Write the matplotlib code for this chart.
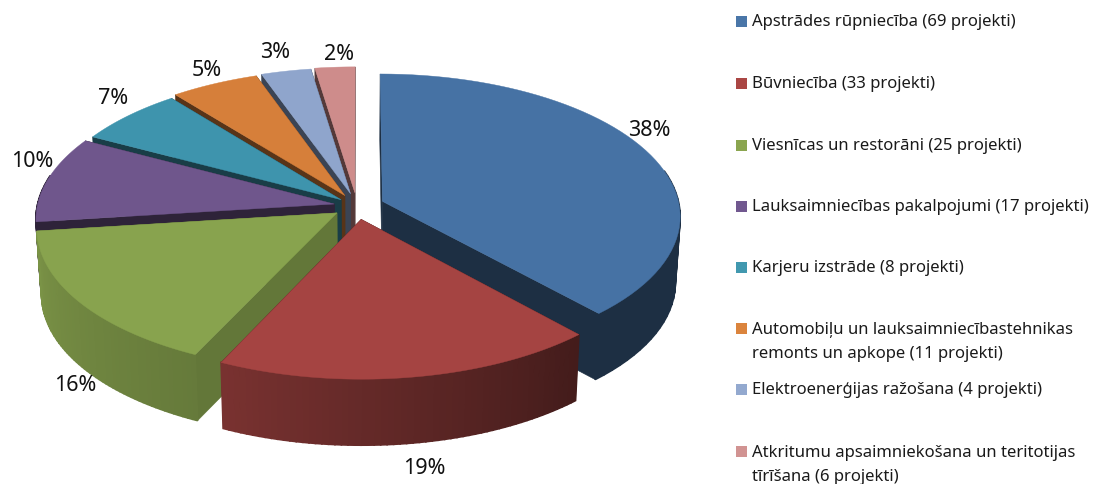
import numpy as np
import matplotlib
matplotlib.use("Agg")
import matplotlib.pyplot as plt
from matplotlib.patches import Polygon, Rectangle
from matplotlib.colors import to_rgb

# --- data (shares; labels show the rounded values)
percent = [38.3, 18.7, 16.0, 9.8, 6.5, 5.3, 3.0, 2.4]
percent_labels = ["38%", "19%", "16%", "10%", "7%", "5%", "3%", "2%"]
legend_labels = [
    "Apstrādes rūpniecība (69 projekti)",
    "Būvniecība (33 projekti)",
    "Viesnīcas un restorāni (25 projekti)",
    "Lauksaimniecības pakalpojumi (17 projekti)",
    "Karjeru izstrāde (8 projekti)",
    "Automobiļu un lauksaimniecībastehnikas\nremonts un apkope (11 projekti)",
    "Elektroenerģijas ražošana (4 projekti)",
    "Atkritumu apsaimniekošana un teritotijas\ntīrīšana (6 projekti)",
]

# --- styles
top_colors = ["#4672A4", "#A54442", "#88A34E", "#6F568C", "#3E94AD", "#D67F3A", "#8FA5CC", "#CE8C8B"]
legend_colors = ["#4A76A8", "#AA4644", "#8AA54F", "#71588F", "#4198AF", "#DB843D", "#93A9CF", "#D19392"]
radial_shade = [0.41, 0.41, 0.73, 0.41, 0.41, 0.41, 0.41, 0.41]
arc_shade = [(0.41, 0.41), (0.41, 0.73), (0.75, 0.9), (0.41, 0.41), (0.41, 0.41),
             (0.41, 0.41), (0.41, 0.41), (0.41, 0.41)]
explode = [0.092, 0.095, 0.083, 0.078, 0.07, 0.085, 0.09, 0.095]
draw_order = [7, 6, 5, 4, 3, 2, 0, 1]
label_xy = [(649, 131), (424, 469), (75, 386), (32, 162), (113, 99), (207, 71), (275, 52), (339, 54)]
legend_y = [22, 84, 146, 207, 268, 329, 390, 452]
text_y = [22.5, 84.5, 146.5, 207.5, 268.5, 342, 390.5, 465]

CX, CY, RX, RY = 357.0, 207.0, 297.0, 141.0
PERSP, DEPTH, SHRINK = 0.10, 66.0, 0.985
FONT = "Noto Sans"


def project(x, y):
    f = 1.0 / (1.0 - PERSP * y)
    return CX + RX * x * f, CY + RY * y * f


def lower(px, py):
    return CX + (px - CX) * SHRINK, py + DEPTH


def shade(color, k):
    return tuple(c * k for c in to_rgb(color))


fig = plt.figure(figsize=(10.96, 4.85), dpi=100)
ax = fig.add_axes([0, 0, 1, 1])
ax.set_xlim(0, 1096)
ax.set_ylim(485, 0)
ax.axis("off")

edges = np.cumsum([0] + percent) / sum(percent) * 2 * np.pi

for i in draw_order:
    a0, a1 = edges[i], edges[i + 1]
    mid = (a0 + a1) / 2
    ex, ey = explode[i] * np.sin(mid), -explode[i] * np.cos(mid)
    th = np.linspace(a0, a1, 60)
    rx, ry = project(ex + np.sin(th), ey - np.cos(th))
    ax0, ay0 = project(ex, ey)
    base = top_colors[i]
    wall = shade(base, radial_shade[i])
    # radial walls
    for px, py in ((rx[0], ry[0]), (rx[-1], ry[-1])):
        q = [(ax0, ay0), (px, py), lower(px, py), lower(ax0, ay0)]
        ax.add_patch(Polygon(q, closed=True, fc=wall, ec=wall, lw=0.4))
    # outer wall with a shading run along the angle
    k = np.linspace(arc_shade[i][0], arc_shade[i][1], len(th) - 1)
    for j in range(len(th) - 1):
        if np.cos(th[j]) > 0.2 and np.cos(th[j + 1]) > 0.2:
            continue
        q = [(rx[j], ry[j]), (rx[j + 1], ry[j + 1]),
             lower(rx[j + 1], ry[j + 1]), lower(rx[j], ry[j])]
        c = shade(base, k[j])
        ax.add_patch(Polygon(q, closed=True, fc=c, ec=c, lw=1.2))
    # top face
    pts = [(ax0, ay0)] + list(zip(rx, ry))
    ax.add_patch(Polygon(pts, closed=True, fc=base, ec=base, lw=0.3))

for s, (x, y) in zip(percent_labels, label_xy):
    ax.text(x, y, s, ha="center", va="center", fontsize=15.5, family=FONT, color="#111111")

for lab, c, ys, yt in zip(legend_labels, legend_colors, legend_y, text_y):
    ax.add_patch(Rectangle((736, ys - 5.5), 11, 11, fc=c, ec="none"))
    ax.text(752, yt, lab, ha="left", va="center", fontsize=12, family=FONT,
            color="#1a1a1a", linespacing=1.6)

fig.savefig("out.png", dpi=100, facecolor="white")
